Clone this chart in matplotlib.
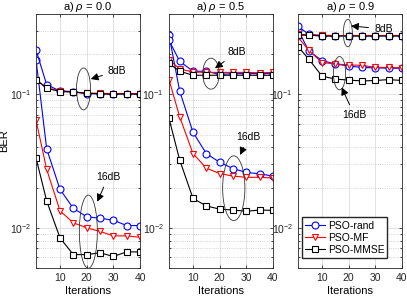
import matplotlib
matplotlib.use('Agg')
import matplotlib.pyplot as plt
from matplotlib.patches import Ellipse
from matplotlib.ticker import LogLocator, NullFormatter

plt.rcParams['font.family'] = ['Liberation Sans', 'DejaVu Sans']
plt.rcParams['mathtext.fontset'] = 'custom'
plt.rcParams['mathtext.rm'] = 'Liberation Sans'
plt.rcParams['mathtext.it'] = 'Liberation Sans:italic'
plt.rcParams['mathtext.default'] = 'regular'

# Data
iters = [1, 5, 10, 15, 20, 25, 30, 35, 40]
titles = ['a) $\\mathit{\\rho}$ = 0.0', 'a) $\\mathit{\\rho}$ = 0.5', 'a) $\\mathit{\\rho}$ = 0.9']

# rho = 0.0
rand_8_r0 = [0.215, 0.118, 0.106, 0.105, 0.101, 0.101, 0.101, 0.101, 0.101]
mf_8_r0 = [0.129, 0.112, 0.106, 0.104, 0.102, 0.102, 0.101, 0.101, 0.101]
mmse_8_r0 = [0.129, 0.111, 0.105, 0.104, 0.102, 0.101, 0.100, 0.101, 0.100]
rand_16_r0 = [0.182, 0.039, 0.0194, 0.014, 0.0121, 0.0118, 0.0114, 0.0104, 0.0104]
mf_16_r0 = [0.064, 0.0274, 0.0134, 0.0109, 0.0100, 0.0094, 0.0087, 0.0087, 0.0085]
mmse_16_r0 = [0.0334, 0.0159, 0.0084, 0.0063, 0.0063, 0.0065, 0.0061, 0.0066, 0.0066]

# rho = 0.5
rand_8_r5 = [0.254, 0.177, 0.149, 0.149, 0.141, 0.143, 0.143, 0.143, 0.143]
mf_8_r5 = [0.182, 0.155, 0.147, 0.146, 0.146, 0.146, 0.146, 0.145, 0.146]
mmse_8_r5 = [0.171, 0.149, 0.139, 0.139, 0.139, 0.139, 0.139, 0.139, 0.139]
rand_16_r5 = [0.278, 0.106, 0.052, 0.036, 0.031, 0.0278, 0.026, 0.0254, 0.0244]
mf_16_r5 = [0.129, 0.068, 0.036, 0.028, 0.0255, 0.0244, 0.0239, 0.0239, 0.0236]
mmse_16_r5 = [0.066, 0.0323, 0.0166, 0.0146, 0.0138, 0.0136, 0.0133, 0.0136, 0.0135]

# rho = 0.9
rand_8_r9 = [0.323, 0.282, 0.275, 0.275, 0.275, 0.275, 0.275, 0.275, 0.275]
mf_8_r9 = [0.282, 0.279, 0.277, 0.276, 0.276, 0.276, 0.276, 0.276, 0.276]
mmse_8_r9 = [0.277, 0.278, 0.273, 0.273, 0.274, 0.273, 0.273, 0.274, 0.273]
rand_16_r9 = [0.305, 0.212, 0.179, 0.169, 0.163, 0.159, 0.158, 0.157, 0.157]
mf_16_r9 = [0.269, 0.214, 0.173, 0.169, 0.166, 0.165, 0.159, 0.159, 0.158]
mmse_16_r9 = [0.228, 0.184, 0.137, 0.130, 0.128, 0.126, 0.127, 0.129, 0.127]

panels = [
    (rand_8_r0, mf_8_r0, mmse_8_r0, rand_16_r0, mf_16_r0, mmse_16_r0),
    (rand_8_r5, mf_8_r5, mmse_8_r5, rand_16_r5, mf_16_r5, mmse_16_r5),
    (rand_8_r9, mf_8_r9, mmse_8_r9, rand_16_r9, mf_16_r9, mmse_16_r9),
]

# annotations in axes fraction: ellipse (cx, cy, w, h), text pos, arrow head
notes = [
    [((0.457, 0.705, 0.135, 0.165), '8dB', (0.779, 0.776), (0.526, 0.744)),
     ((0.503, 0.143, 0.173, 0.288), '16dB', (0.695, 0.359), (0.589, 0.261))],
    [((0.404, 0.765, 0.160, 0.122), '8dB', (0.654, 0.850), (0.442, 0.786)),
     ((0.623, 0.314, 0.214, 0.255), '16dB', (0.763, 0.515), (0.683, 0.445))],
    [((0.479, 0.925, 0.087, 0.108), '8dB', (0.820, 0.941), (0.510, 0.953)),
     ((0.399, 0.767, 0.118, 0.131), '16dB', (0.541, 0.602), (0.420, 0.711))],
]

fig = plt.figure(figsize=(4.07, 2.99), dpi=100)
lefts = [0.0885, 0.4152, 0.7322]
dark = '#262626'

for i, left in enumerate(lefts):
    ax = fig.add_axes([left, 0.1037, 0.2555, 0.8495])
    r8, m8, s8, r16, m16, s16 = panels[i]
    sty = dict(lw=0.8, ms=5, mfc='white', mew=0.8)
    for y8, y16, c, mk, lab in [(r8, r16, 'blue', 'o', 'PSO-rand'),
                                (m8, m16, 'red', 'v', 'PSO-MF'),
                                (s8, s16, 'black', 's', 'PSO-MMSE')]:
        ax.plot(iters, y16, color=c, marker=mk, label=lab, **sty)
        ax.plot(iters, y8, color=c, marker=mk, **sty)
    ax.set_yscale('log')
    ax.set_xlim(1, 40)
    ax.set_ylim(0.005, 0.4)
    ax.set_xticks([10, 20, 30, 40])
    ax.yaxis.set_major_locator(LogLocator(base=10, numticks=10))
    ax.yaxis.set_minor_locator(LogLocator(base=10, subs=range(2, 10), numticks=20))
    ax.yaxis.set_minor_formatter(NullFormatter())
    ax.grid(True, which='major', color='#dcdcdc', lw=0.6)
    ax.grid(True, which='minor', axis='y', color='#c8c8c8', lw=0.6, linestyle=':')
    ax.set_axisbelow(True)
    ax.tick_params(which='both', direction='in', top=True, right=True,
                   labelsize=7.5, colors=dark, length=2.5, width=0.6)
    ax.tick_params(which='minor', length=1.5)
    for sp in ax.spines.values():
        sp.set_color(dark)
        sp.set_linewidth(0.6)
    ax.set_title(titles[i], fontsize=8, pad=2, color='black')
    ax.set_xlabel('Iterations', fontsize=8, labelpad=2)
    if i == 0:
        ax.set_ylabel('BER', fontsize=8)
        ax.yaxis.set_label_coords(-0.26, 0.5)

    for (cx, cy, w, h), txt, tpos, head in notes[i]:
        ax.add_patch(Ellipse((cx, cy), w, h, transform=ax.transAxes,
                             fill=False, ec='#333333', lw=0.6, zorder=5))
        ax.annotate(txt, xy=head, xycoords='axes fraction', xytext=tpos,
                    textcoords='axes fraction', fontsize=7.5, ha='center', va='center',
                    arrowprops=dict(arrowstyle='-|>,head_length=0.6,head_width=0.3',
                                    color='black', lw=0.7, shrinkA=2, shrinkB=0),
                    zorder=6)

    if i == 2:
        ax.legend(loc='lower right', bbox_to_anchor=(0.86, 0.04), fontsize=7.5,
                  frameon=True, fancybox=False, edgecolor=dark, framealpha=1,
                  handlelength=1.9, borderpad=0.3, labelspacing=0.2,
                  handletextpad=0.3, borderaxespad=0.0)

fig.savefig('out.png', dpi=100)
